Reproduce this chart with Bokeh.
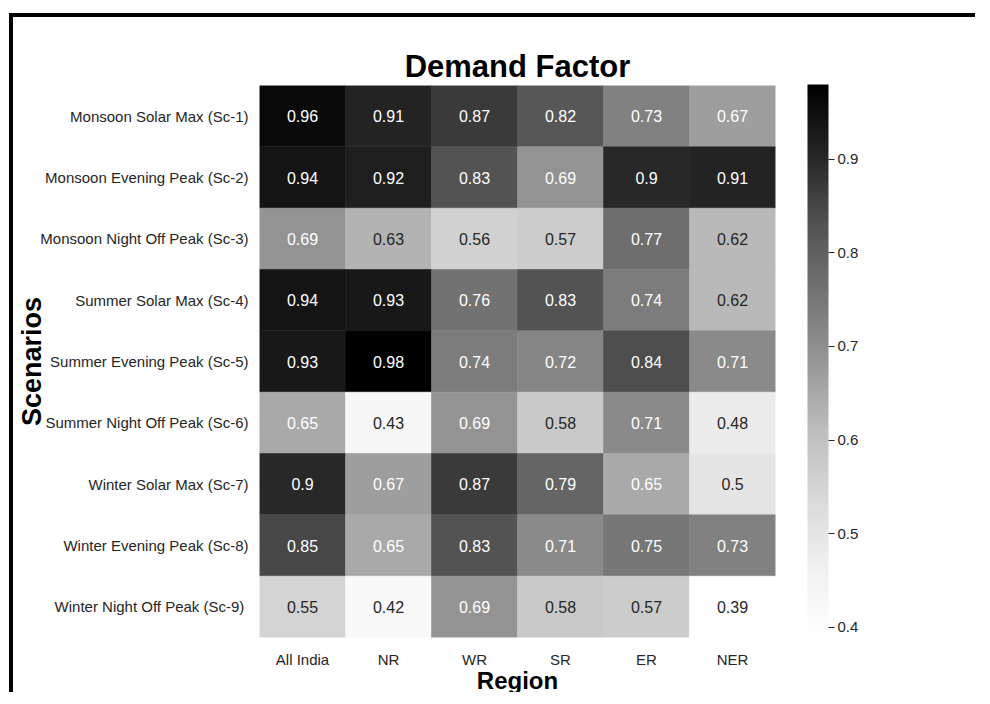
from bokeh.plotting import figure
from bokeh.models import ColumnDataSource, LinearColorMapper, ColorBar, FixedTicker, FactorRange
from bokeh.palettes import Greys9
from bokeh.core.properties import value
from bokeh.embed import file_html
from bokeh.resources import INLINE

regions = ["All India", "NR", "WR", "SR", "ER", "NER"]
scenarios = [
    "Monsoon Solar Max (Sc-1)",
    "Monsoon Evening Peak (Sc-2)",
    "Monsoon Night Off Peak (Sc-3)",
    "Summer Solar Max (Sc-4)",
    "Summer Evening Peak (Sc-5)",
    "Summer Night Off Peak (Sc-6)",
    "Winter Solar Max (Sc-7)",
    "Winter Evening Peak (Sc-8)",
    "Winter Night Off Peak  (Sc-9)",
]
sc1 = [0.96, 0.91, 0.87, 0.82, 0.73, 0.67]
sc2 = [0.94, 0.92, 0.83, 0.69, 0.90, 0.91]
sc3 = [0.69, 0.63, 0.56, 0.57, 0.77, 0.62]
sc4 = [0.94, 0.93, 0.76, 0.83, 0.74, 0.62]
sc5 = [0.93, 0.98, 0.74, 0.72, 0.84, 0.71]
sc6 = [0.65, 0.43, 0.69, 0.58, 0.71, 0.48]
sc7 = [0.90, 0.67, 0.87, 0.79, 0.65, 0.50]
sc8 = [0.85, 0.65, 0.83, 0.71, 0.75, 0.73]
sc9 = [0.55, 0.42, 0.69, 0.58, 0.57, 0.39]
colorbar_ticks = [0.4, 0.5, 0.6, 0.7, 0.8, 0.9]

rows = [sc1, sc2, sc3, sc4, sc5, sc6, sc7, sc8, sc9]
xs, ys, vals, labels, tcolors = [], [], [], [], []
for sc, row in zip(scenarios, rows):
    for rg, v in zip(regions, row):
        xs.append(rg)
        ys.append(sc)
        vals.append(v)
        labels.append("{:g}".format(v))
        tcolors.append("white" if v >= 0.64 else "#262626")

src = ColumnDataSource(dict(region=xs, scenario=ys, value=vals, label=labels, tcolor=tcolors))

SANS = "'Liberation Sans', Arial, sans-serif"


def smooth_palette(anchors, n=256):
    rgb = [tuple(int(c[i:i + 2], 16) for i in (1, 3, 5)) for c in anchors]
    out = []
    for k in range(n):
        t = k / (n - 1) * (len(rgb) - 1)
        i = min(int(t), len(rgb) - 2)
        f = t - i
        c = [round(a + (b - a) * f) for a, b in zip(rgb[i], rgb[i + 1])]
        out.append("#%02x%02x%02x" % tuple(c))
    return out


palette = smooth_palette(list(reversed(Greys9)))  # white -> black
mapper = LinearColorMapper(palette=palette, low=min(vals), high=max(vals))

p = figure(
    width=966, height=679,
    x_range=FactorRange(factors=regions),
    y_range=FactorRange(factors=list(reversed(scenarios))),
    output_backend="svg", toolbar_location=None,
    min_border_left=246, min_border_right=204,
    min_border_top=68, min_border_bottom=58,
    title="Demand Factor",
)
p.styles = {"border-top": "4px solid black", "border-left": "4px solid black",
            "margin-top": "13px", "margin-left": "9px"}

p.rect(x="region", y="scenario", width=1, height=1, source=src,
       fill_color={"field": "value", "transform": mapper},
       line_color={"field": "value", "transform": mapper}, line_width=0.6)
p.text(x="region", y="scenario", text="label", source=src,
       text_align="center", text_baseline="middle",
       text_color="tcolor", text_font=value(SANS), text_font_size="16px")

p.title.align = "center"
p.title.text_font = SANS
p.title.text_font_size = "31px"
p.title.text_font_style = "bold"
p.title.text_color = "black"
p.title.standoff = 3

p.outline_line_color = None
p.grid.grid_line_color = None
p.background_fill_color = "white"
p.border_fill_color = "white"

for ax in (p.xaxis[0], p.yaxis[0]):
    ax.axis_line_color = None
    ax.major_tick_line_color = None
    ax.minor_tick_line_color = None
    ax.major_label_text_font = SANS
    ax.major_label_text_font_size = "15px"
    ax.major_label_text_color = "#262626"
    ax.axis_label_text_color = "black"
    ax.axis_label_text_font_style = "bold"

p.xaxis.axis_label = "Region"
p.xaxis.axis_label_text_font = SANS
p.xaxis.axis_label_text_font_size = "24px"
p.xaxis.major_label_standoff = 7
p.xaxis.axis_label_standoff = -4

p.yaxis.axis_label = "Scenarios"
p.yaxis.axis_label_text_font = SANS
p.yaxis.axis_label_text_font_size = "27px"
p.yaxis.major_label_standoff = 5
p.yaxis.axis_label_standoff = -10

cb = ColorBar(
    color_mapper=mapper,
    ticker=FixedTicker(ticks=colorbar_ticks),
    width=21, height=552,
    location=(32, 1),
    padding=0, margin=0,
    bar_line_color=None,
    major_tick_out=6, major_tick_in=0,
    major_tick_line_color="#262626",
    minor_tick_line_color=None,
    major_label_text_font=SANS,
    major_label_text_font_size="15px",
    major_label_text_color="#262626",
    label_standoff=3,
    background_fill_color=None,
    border_line_color=None,
)
p.add_layout(cb, "right")

open("out.html", "w").write(file_html(p, INLINE))
